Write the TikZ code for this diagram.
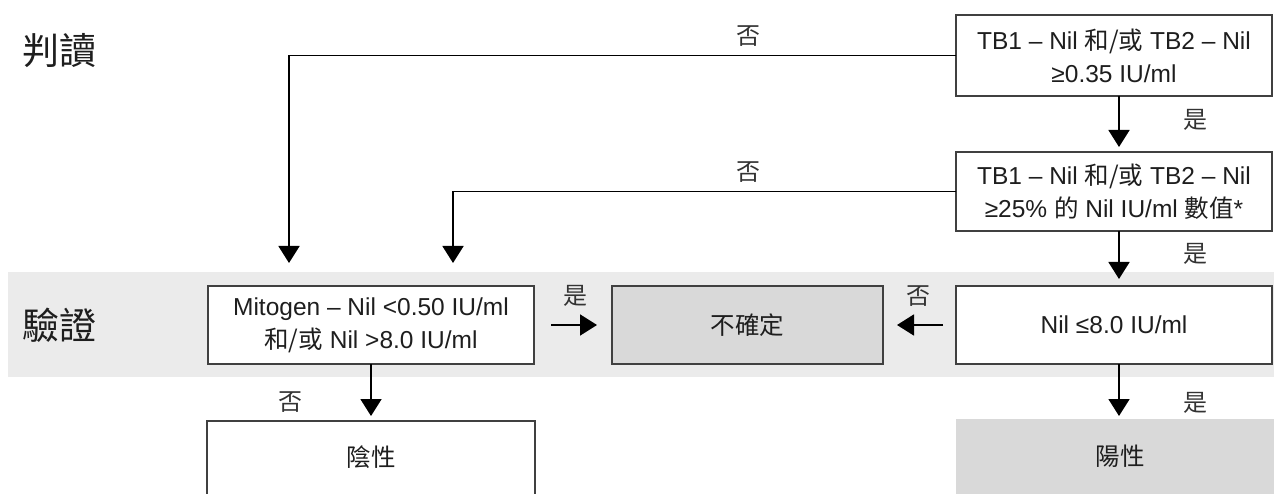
\documentclass[tikz,border=0pt]{standalone}
\usepackage{fontspec}
\setmainfont{Liberation Sans}
\newfontfamily\cjk{Noto Sans CJK TC}
\usetikzlibrary{arrows.meta}
\definecolor{bandgray}{HTML}{EBEBEB}
\definecolor{boxgray}{HTML}{D9D9D9}
\definecolor{bordergray}{HTML}{404040}
\definecolor{txt}{HTML}{1E1E1E}
\definecolor{labtxt}{HTML}{333333}
\newcommand\cj[1]{{\cjk #1}}
\begin{document}
\begin{tikzpicture}[x=1pt,y=-1pt,
  box/.style={draw=bordergray, line width=2.2pt, fill=white, inner sep=0pt, outer sep=0pt,
    align=center, text=txt, font=\fontsize{24.5}{33}\selectfont},
  graybox/.style={box, fill=boxgray},
  arr/.style={draw=black, line width=1.8pt, -{Triangle[length=17pt,width=21pt]}},
  lab/.style={inner sep=0pt, text=labtxt, font=\cjk\fontsize{24}{24}\selectfont},
  head/.style={inner sep=0pt, text=txt, font=\cjk\fontsize{37}{37}\selectfont}]
\useasboundingbox (0,0) rectangle (1274,494);
\clip (0,0) rectangle (1274,494);
% band
\fill[bandgray] (8,272) rectangle (1280,377);
% headings
\node[head] (h1) at (60,50.5) {判讀};
\node[head] (h2) at (60,325) {驗證};
% boxes
\node[box, minimum width=316, minimum height=81] (b1) at (1114,55.5)
  {TB1 – Nil \cj{和/或} TB2 – Nil\\≥0.35 IU/ml};
\node[box, minimum width=316, minimum height=79] (b2) at (1114,191.5)
  {TB1 – Nil \cj{和/或} TB2 – Nil\\≥25\% \cj{的} Nil IU/ml \cj{數值}*};
\node[box, minimum width=316, minimum height=78] (nil) at (1114,325)
  {Nil ≤8.0 IU/ml};
\node[box, minimum width=326, minimum height=78] (mito) at (371,325)
  {Mitogen – Nil <0.50 IU/ml\\\cj{和/或} Nil >8.0 IU/ml};
\node[graybox, minimum width=271, minimum height=78] (und) at (747.5,325)
  {\cj{不確定}};
\node[box, minimum width=328, minimum height=100, text depth=0pt] (neg) at (371,471)
  {};
\node[text=txt, font=\cjk\fontsize{24.5}{24.5}\selectfont] (negt) at (371,457) {陰性};
\node[fill=boxgray, minimum width=330, minimum height=90, inner sep=0pt] (pos) at (1121,464) {};
\node[text=txt, font=\cjk\fontsize{24.5}{24.5}\selectfont] (post) at (1120,456) {陽性};
% tips
\coordinate (t1) at (289,263);
\coordinate (t2) at (453,263);
\coordinate (t3) at (1119,147);
\coordinate (t4) at (1119,279);
\coordinate (t5) at (1119,416);
\coordinate (t6) at (371,416);
% connectors
\draw[arr] (b1.west) -| (t1);
\draw[arr] (b2.west) -| (t2);
\draw[arr] (b1.south -| t3) -- (t3);
\draw[arr] (b2.south -| t4) -- (t4);
\draw[arr] (nil.south -| t5) -- (t5);
\draw[arr] (mito.south) -- (t6);
\draw[arr] ([xshift=17pt]mito.east) -- ([xshift=-15pt]und.west);
\draw[arr] ([xshift=-13pt]nil.west) -- ([xshift=14pt]und.east);
% labels
\node[lab] (l1) at (748,36) {否};
\node[lab] (l2) at (748,172) {否};
\node[lab] (l3) at (1195,120) {是};
\node[lab] (l4) at (1195,254) {是};
\node[lab] (l5) at (575,296) {是};
\node[lab] (l6) at (918,296) {否};
\node[lab] (l7) at (290,402) {否};
\node[lab] (l8) at (1195,403) {是};
\end{tikzpicture}
\end{document}
